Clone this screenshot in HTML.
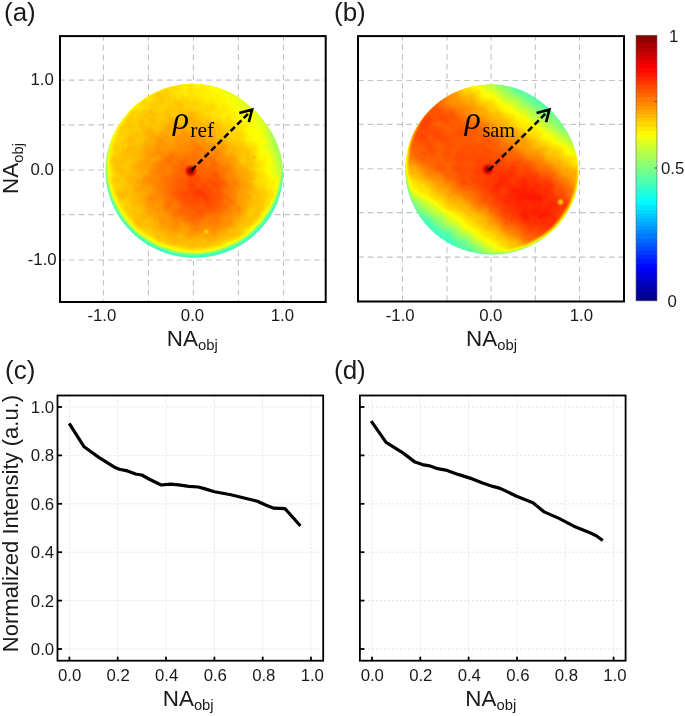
<!DOCTYPE html>
<html><head><meta charset="utf-8"><title>Figure</title>
<style>html,body{margin:0;padding:0;background:#fff;width:685px;height:716px;overflow:hidden}svg{display:block;will-change:transform}</style>
</head><body><svg width="685" height="716" viewBox="0 0 685 716"><defs><filter id="jetn" x="0" y="0" width="1" height="1" color-interpolation-filters="sRGB"><feTurbulence type="fractalNoise" baseFrequency="0.09" numOctaves="2" seed="7" result="nz"/><feColorMatrix in="nz" type="matrix" values="1 0 0 0 0  1 0 0 0 0  1 0 0 0 0  0 0 0 0 1" result="nzg"/><feComposite in="SourceGraphic" in2="nzg" operator="arithmetic" k1="0" k2="1" k3="0.045" k4="-0.0225" result="mix"/><feComposite in="mix" in2="SourceAlpha" operator="in" result="mixa"/><feComponentTransfer in="mixa"><feFuncR type="table" tableValues="0 0 0 0 0.5 1 1 1 0.5"/><feFuncG type="table" tableValues="0 0 0.5 1 1 1 0.5 0 0"/><feFuncB type="table" tableValues="0.5 1 1 1 0.5 0 0 0 0"/></feComponentTransfer></filter><filter id="jetf" x="0" y="0" width="1" height="1" color-interpolation-filters="sRGB"><feComponentTransfer><feFuncR type="table" tableValues="0 0 0 0 0.5 1 1 1 0.5"/><feFuncG type="table" tableValues="0 0 0.5 1 1 1 0.5 0 0"/><feFuncB type="table" tableValues="0.5 1 1 1 0.5 0 0 0 0"/></feComponentTransfer></filter><linearGradient id="cbar" x1="0" y1="0" x2="0" y2="1"><stop offset="0.0000" stop-color="#fdfdfd"/><stop offset="0.0156" stop-color="#fdfdfd"/><stop offset="0.0156" stop-color="#f9f9f9"/><stop offset="0.0312" stop-color="#f9f9f9"/><stop offset="0.0312" stop-color="#f5f5f5"/><stop offset="0.0469" stop-color="#f5f5f5"/><stop offset="0.0469" stop-color="#f1f1f1"/><stop offset="0.0625" stop-color="#f1f1f1"/><stop offset="0.0625" stop-color="#ededed"/><stop offset="0.0781" stop-color="#ededed"/><stop offset="0.0781" stop-color="#e9e9e9"/><stop offset="0.0938" stop-color="#e9e9e9"/><stop offset="0.0938" stop-color="#e5e5e5"/><stop offset="0.1094" stop-color="#e5e5e5"/><stop offset="0.1094" stop-color="#e1e1e1"/><stop offset="0.1250" stop-color="#e1e1e1"/><stop offset="0.1250" stop-color="#dddddd"/><stop offset="0.1406" stop-color="#dddddd"/><stop offset="0.1406" stop-color="#d9d9d9"/><stop offset="0.1562" stop-color="#d9d9d9"/><stop offset="0.1562" stop-color="#d5d5d5"/><stop offset="0.1719" stop-color="#d5d5d5"/><stop offset="0.1719" stop-color="#d1d1d1"/><stop offset="0.1875" stop-color="#d1d1d1"/><stop offset="0.1875" stop-color="#cdcdcd"/><stop offset="0.2031" stop-color="#cdcdcd"/><stop offset="0.2031" stop-color="#c9c9c9"/><stop offset="0.2188" stop-color="#c9c9c9"/><stop offset="0.2188" stop-color="#c5c5c5"/><stop offset="0.2344" stop-color="#c5c5c5"/><stop offset="0.2344" stop-color="#c1c1c1"/><stop offset="0.2500" stop-color="#c1c1c1"/><stop offset="0.2500" stop-color="#bdbdbd"/><stop offset="0.2656" stop-color="#bdbdbd"/><stop offset="0.2656" stop-color="#b9b9b9"/><stop offset="0.2812" stop-color="#b9b9b9"/><stop offset="0.2812" stop-color="#b5b5b5"/><stop offset="0.2969" stop-color="#b5b5b5"/><stop offset="0.2969" stop-color="#b1b1b1"/><stop offset="0.3125" stop-color="#b1b1b1"/><stop offset="0.3125" stop-color="#adadad"/><stop offset="0.3281" stop-color="#adadad"/><stop offset="0.3281" stop-color="#a9a9a9"/><stop offset="0.3438" stop-color="#a9a9a9"/><stop offset="0.3438" stop-color="#a5a5a5"/><stop offset="0.3594" stop-color="#a5a5a5"/><stop offset="0.3594" stop-color="#a1a1a1"/><stop offset="0.3750" stop-color="#a1a1a1"/><stop offset="0.3750" stop-color="#9d9d9d"/><stop offset="0.3906" stop-color="#9d9d9d"/><stop offset="0.3906" stop-color="#999999"/><stop offset="0.4062" stop-color="#999999"/><stop offset="0.4062" stop-color="#959595"/><stop offset="0.4219" stop-color="#959595"/><stop offset="0.4219" stop-color="#919191"/><stop offset="0.4375" stop-color="#919191"/><stop offset="0.4375" stop-color="#8d8d8d"/><stop offset="0.4531" stop-color="#8d8d8d"/><stop offset="0.4531" stop-color="#898989"/><stop offset="0.4688" stop-color="#898989"/><stop offset="0.4688" stop-color="#858585"/><stop offset="0.4844" stop-color="#858585"/><stop offset="0.4844" stop-color="#818181"/><stop offset="0.5000" stop-color="#818181"/><stop offset="0.5000" stop-color="#7e7e7e"/><stop offset="0.5156" stop-color="#7e7e7e"/><stop offset="0.5156" stop-color="#7a7a7a"/><stop offset="0.5312" stop-color="#7a7a7a"/><stop offset="0.5312" stop-color="#767676"/><stop offset="0.5469" stop-color="#767676"/><stop offset="0.5469" stop-color="#727272"/><stop offset="0.5625" stop-color="#727272"/><stop offset="0.5625" stop-color="#6e6e6e"/><stop offset="0.5781" stop-color="#6e6e6e"/><stop offset="0.5781" stop-color="#6a6a6a"/><stop offset="0.5938" stop-color="#6a6a6a"/><stop offset="0.5938" stop-color="#666666"/><stop offset="0.6094" stop-color="#666666"/><stop offset="0.6094" stop-color="#626262"/><stop offset="0.6250" stop-color="#626262"/><stop offset="0.6250" stop-color="#5e5e5e"/><stop offset="0.6406" stop-color="#5e5e5e"/><stop offset="0.6406" stop-color="#5a5a5a"/><stop offset="0.6562" stop-color="#5a5a5a"/><stop offset="0.6562" stop-color="#565656"/><stop offset="0.6719" stop-color="#565656"/><stop offset="0.6719" stop-color="#525252"/><stop offset="0.6875" stop-color="#525252"/><stop offset="0.6875" stop-color="#4e4e4e"/><stop offset="0.7031" stop-color="#4e4e4e"/><stop offset="0.7031" stop-color="#4a4a4a"/><stop offset="0.7188" stop-color="#4a4a4a"/><stop offset="0.7188" stop-color="#464646"/><stop offset="0.7344" stop-color="#464646"/><stop offset="0.7344" stop-color="#424242"/><stop offset="0.7500" stop-color="#424242"/><stop offset="0.7500" stop-color="#3e3e3e"/><stop offset="0.7656" stop-color="#3e3e3e"/><stop offset="0.7656" stop-color="#3a3a3a"/><stop offset="0.7812" stop-color="#3a3a3a"/><stop offset="0.7812" stop-color="#363636"/><stop offset="0.7969" stop-color="#363636"/><stop offset="0.7969" stop-color="#323232"/><stop offset="0.8125" stop-color="#323232"/><stop offset="0.8125" stop-color="#2e2e2e"/><stop offset="0.8281" stop-color="#2e2e2e"/><stop offset="0.8281" stop-color="#2a2a2a"/><stop offset="0.8438" stop-color="#2a2a2a"/><stop offset="0.8438" stop-color="#262626"/><stop offset="0.8594" stop-color="#262626"/><stop offset="0.8594" stop-color="#222222"/><stop offset="0.8750" stop-color="#222222"/><stop offset="0.8750" stop-color="#1e1e1e"/><stop offset="0.8906" stop-color="#1e1e1e"/><stop offset="0.8906" stop-color="#1a1a1a"/><stop offset="0.9062" stop-color="#1a1a1a"/><stop offset="0.9062" stop-color="#161616"/><stop offset="0.9219" stop-color="#161616"/><stop offset="0.9219" stop-color="#121212"/><stop offset="0.9375" stop-color="#121212"/><stop offset="0.9375" stop-color="#0e0e0e"/><stop offset="0.9531" stop-color="#0e0e0e"/><stop offset="0.9531" stop-color="#0a0a0a"/><stop offset="0.9688" stop-color="#0a0a0a"/><stop offset="0.9688" stop-color="#060606"/><stop offset="0.9844" stop-color="#060606"/><stop offset="0.9844" stop-color="#020202"/><stop offset="1.0000" stop-color="#020202"/></linearGradient><radialGradient id="ga" gradientUnits="userSpaceOnUse" cx="194.6" cy="170.5" r="90" fx="205" fy="195"><stop offset="0.0000" stop-color="#cfcfcf"/><stop offset="0.2000" stop-color="#cbcbcb"/><stop offset="0.3500" stop-color="#c4c4c4"/><stop offset="0.5000" stop-color="#bdbdbd"/><stop offset="0.6000" stop-color="#b8b8b8"/><stop offset="0.7000" stop-color="#b2b2b2"/><stop offset="0.8000" stop-color="#afafaf"/><stop offset="0.9000" stop-color="#acacac"/><stop offset="1.0000" stop-color="#aaaaaa"/></radialGradient><linearGradient id="ga2" gradientUnits="userSpaceOnUse" x1="266" y1="96" x2="186" y2="176"><stop offset="0.0000" stop-color="#8a8a8a"/><stop offset="0.1500" stop-color="#939393" stop-opacity="0.850"/><stop offset="0.3500" stop-color="#9c9c9c" stop-opacity="0.550"/><stop offset="0.6500" stop-color="#a6a6a6" stop-opacity="0.200"/><stop offset="1.0000" stop-color="#a8a8a8" stop-opacity="0.000"/></linearGradient><linearGradient id="ga3" gradientUnits="userSpaceOnUse" x1="286" y1="150" x2="226" y2="167"><stop offset="0.0000" stop-color="#757575"/><stop offset="0.1200" stop-color="#858585" stop-opacity="0.900"/><stop offset="0.3000" stop-color="#999999" stop-opacity="0.600"/><stop offset="0.6000" stop-color="#a6a6a6" stop-opacity="0.250"/><stop offset="1.0000" stop-color="#a8a8a8" stop-opacity="0.000"/></linearGradient><radialGradient id="rima" gradientUnits="userSpaceOnUse" cx="194.1" cy="166.0" r="90"><stop offset="0.8270" stop-color="#b2b2b2" stop-opacity="0.000"/><stop offset="0.8940" stop-color="#adadad" stop-opacity="0.600"/><stop offset="0.9500" stop-color="#9f9f9f" stop-opacity="0.900"/><stop offset="0.9720" stop-color="#8a8a8a"/><stop offset="0.9880" stop-color="#787878"/><stop offset="1.0050" stop-color="#6e6e6e"/></radialGradient><radialGradient id="rima2" gradientUnits="userSpaceOnUse" cx="150" cy="225" r="55"><stop offset="0.0000" stop-color="#737373" stop-opacity="0.500"/><stop offset="1.0000" stop-color="#737373" stop-opacity="0.000"/></radialGradient><linearGradient id="gb" gradientUnits="userSpaceOnUse" x1="431.64" y1="253.92" x2="546.36" y2="90.08"><stop offset="0.0000" stop-color="#616161"/><stop offset="0.0100" stop-color="#626262"/><stop offset="0.0200" stop-color="#636363"/><stop offset="0.0300" stop-color="#656565"/><stop offset="0.0400" stop-color="#666666"/><stop offset="0.0500" stop-color="#676767"/><stop offset="0.0600" stop-color="#696969"/><stop offset="0.0700" stop-color="#6a6a6a"/><stop offset="0.0800" stop-color="#6b6b6b"/><stop offset="0.0900" stop-color="#6e6e6e"/><stop offset="0.1000" stop-color="#707070"/><stop offset="0.1100" stop-color="#737373"/><stop offset="0.1200" stop-color="#757575"/><stop offset="0.1300" stop-color="#787878"/><stop offset="0.1400" stop-color="#7c7c7c"/><stop offset="0.1500" stop-color="#818181"/><stop offset="0.1600" stop-color="#858585"/><stop offset="0.1700" stop-color="#8a8a8a"/><stop offset="0.1800" stop-color="#8f8f8f"/><stop offset="0.1900" stop-color="#939393"/><stop offset="0.2000" stop-color="#989898"/><stop offset="0.2100" stop-color="#9d9d9d"/><stop offset="0.2200" stop-color="#a1a1a1"/><stop offset="0.2300" stop-color="#a4a4a4"/><stop offset="0.2400" stop-color="#a7a7a7"/><stop offset="0.2500" stop-color="#a9a9a9"/><stop offset="0.2600" stop-color="#acacac"/><stop offset="0.2700" stop-color="#afafaf"/><stop offset="0.2800" stop-color="#b1b1b1"/><stop offset="0.2900" stop-color="#b4b4b4"/><stop offset="0.3000" stop-color="#b6b6b6"/><stop offset="0.3100" stop-color="#b9b9b9"/><stop offset="0.3200" stop-color="#bbbbbb"/><stop offset="0.3300" stop-color="#bebebe"/><stop offset="0.3400" stop-color="#c0c0c0"/><stop offset="0.3500" stop-color="#c2c2c2"/><stop offset="0.3600" stop-color="#c5c5c5"/><stop offset="0.3700" stop-color="#c7c7c7"/><stop offset="0.3800" stop-color="#c9c9c9"/><stop offset="0.3900" stop-color="#cbcbcb"/><stop offset="0.4000" stop-color="#cccccc"/><stop offset="0.4100" stop-color="#cdcdcd"/><stop offset="0.4200" stop-color="#cfcfcf"/><stop offset="0.4300" stop-color="#d0d0d0"/><stop offset="0.4400" stop-color="#d1d1d1"/><stop offset="0.4500" stop-color="#d2d2d2"/><stop offset="0.4600" stop-color="#d2d2d2"/><stop offset="0.4700" stop-color="#d2d2d2"/><stop offset="0.4800" stop-color="#d3d3d3"/><stop offset="0.4900" stop-color="#d3d3d3"/><stop offset="0.5000" stop-color="#d4d4d4"/><stop offset="0.5100" stop-color="#d3d3d3"/><stop offset="0.5200" stop-color="#d2d2d2"/><stop offset="0.5300" stop-color="#d1d1d1"/><stop offset="0.5400" stop-color="#d1d1d1"/><stop offset="0.5500" stop-color="#d0d0d0"/><stop offset="0.5600" stop-color="#cfcfcf"/><stop offset="0.5700" stop-color="#cecece"/><stop offset="0.5800" stop-color="#cecece"/><stop offset="0.5900" stop-color="#cdcdcd"/><stop offset="0.6000" stop-color="#cccccc"/><stop offset="0.6100" stop-color="#cacaca"/><stop offset="0.6200" stop-color="#c9c9c9"/><stop offset="0.6300" stop-color="#c7c7c7"/><stop offset="0.6400" stop-color="#c5c5c5"/><stop offset="0.6500" stop-color="#c4c4c4"/><stop offset="0.6600" stop-color="#c2c2c2"/><stop offset="0.6700" stop-color="#c0c0c0"/><stop offset="0.6800" stop-color="#bebebe"/><stop offset="0.6900" stop-color="#bcbcbc"/><stop offset="0.7000" stop-color="#bababa"/><stop offset="0.7100" stop-color="#b8b8b8"/><stop offset="0.7200" stop-color="#b6b6b6"/><stop offset="0.7300" stop-color="#b4b4b4"/><stop offset="0.7400" stop-color="#b2b2b2"/><stop offset="0.7500" stop-color="#b0b0b0"/><stop offset="0.7600" stop-color="#adadad"/><stop offset="0.7700" stop-color="#ababab"/><stop offset="0.7800" stop-color="#a8a8a8"/><stop offset="0.7900" stop-color="#a6a6a6"/><stop offset="0.8000" stop-color="#a3a3a3"/><stop offset="0.8100" stop-color="#a1a1a1"/><stop offset="0.8200" stop-color="#9e9e9e"/><stop offset="0.8300" stop-color="#9a9a9a"/><stop offset="0.8400" stop-color="#969696"/><stop offset="0.8500" stop-color="#929292"/><stop offset="0.8600" stop-color="#8f8f8f"/><stop offset="0.8700" stop-color="#8b8b8b"/><stop offset="0.8800" stop-color="#878787"/><stop offset="0.8900" stop-color="#838383"/><stop offset="0.9000" stop-color="#808080"/><stop offset="0.9100" stop-color="#7c7c7c"/><stop offset="0.9200" stop-color="#797979"/><stop offset="0.9300" stop-color="#767676"/><stop offset="0.9400" stop-color="#737373"/><stop offset="0.9500" stop-color="#707070"/><stop offset="0.9600" stop-color="#6f6f6f"/><stop offset="0.9700" stop-color="#6d6d6d"/><stop offset="0.9800" stop-color="#6c6c6c"/><stop offset="0.9900" stop-color="#6a6a6a"/><stop offset="1.0000" stop-color="#696969"/></linearGradient><radialGradient id="gb2" gradientUnits="userSpaceOnUse" cx="530" cy="200" r="45"><stop offset="0.0000" stop-color="#dbdbdb" stop-opacity="0.700"/><stop offset="1.0000" stop-color="#dbdbdb" stop-opacity="0.000"/></radialGradient><radialGradient id="gb3" gradientUnits="userSpaceOnUse" cx="448" cy="148" r="58"><stop offset="0.0000" stop-color="#c6c6c6" stop-opacity="0.800"/><stop offset="0.5000" stop-color="#c6c6c6" stop-opacity="0.500"/><stop offset="1.0000" stop-color="#c6c6c6" stop-opacity="0.000"/></radialGradient><radialGradient id="rimb" gradientUnits="userSpaceOnUse" cx="493.0" cy="166.0" r="89.5"><stop offset="0.9300" stop-color="#9e9e9e" stop-opacity="0.000"/><stop offset="0.9600" stop-color="#949494" stop-opacity="0.500"/><stop offset="0.9850" stop-color="#7a7a7a" stop-opacity="0.900"/><stop offset="1.0000" stop-color="#6e6e6e"/></radialGradient><radialGradient id="sp66"><stop offset="0.0000" stop-color="#a7a7a7" stop-opacity="0.950"/><stop offset="0.5000" stop-color="#a7a7a7" stop-opacity="0.570"/><stop offset="1.0000" stop-color="#a7a7a7" stop-opacity="0.000"/></radialGradient><radialGradient id="sp70"><stop offset="0.0000" stop-color="#b0b0b0" stop-opacity="0.900"/><stop offset="0.5000" stop-color="#b0b0b0" stop-opacity="0.540"/><stop offset="1.0000" stop-color="#b0b0b0" stop-opacity="0.000"/></radialGradient><radialGradient id="dot"><stop offset="0" stop-color="#500000"/><stop offset="0.25" stop-color="#a00000"/><stop offset="0.55" stop-color="#e00000" stop-opacity="0.85"/><stop offset="1" stop-color="#ff2000" stop-opacity="0"/></radialGradient></defs><g stroke="#c4c4c4" stroke-width="1.1" stroke-dasharray="5.8 4" stroke-dashoffset="0.0" fill="none"><line x1="59.0" y1="80.1" x2="326.7" y2="80.1"/><line x1="59.0" y1="124.9" x2="326.7" y2="124.9"/><line x1="59.0" y1="170.0" x2="326.7" y2="170.0"/><line x1="59.0" y1="214.6" x2="326.7" y2="214.6"/><line x1="59.0" y1="260.0" x2="326.7" y2="260.0"/></g><g stroke="#c4c4c4" stroke-width="1.1" stroke-dasharray="5.8 4" stroke-dashoffset="0.0" fill="none"><line x1="103.4" y1="35.0" x2="103.4" y2="303.0"/><line x1="148.4" y1="35.0" x2="148.4" y2="303.0"/><line x1="193.4" y1="35.0" x2="193.4" y2="303.0"/><line x1="238.4" y1="35.0" x2="238.4" y2="303.0"/><line x1="283.5" y1="35.0" x2="283.5" y2="303.0"/></g><g filter="url(#jetn)"><path d="M105.50 170.50 L105.53 168.17 L105.63 165.84 L105.79 163.51 L106.01 161.19 L106.29 158.87 L106.64 156.57 L107.05 154.27 L107.53 151.99 L108.06 149.72 L108.66 147.47 L109.31 145.24 L110.03 143.02 L110.80 140.83 L111.64 138.65 L112.53 136.51 L113.48 134.38 L114.49 132.29 L115.55 130.22 L116.67 128.19 L117.84 126.18 L119.06 124.21 L120.33 122.27 L121.66 120.37 L123.03 118.50 L124.45 116.67 L125.92 114.89 L127.44 113.14 L129.00 111.43 L130.60 109.77 L132.24 108.14 L133.93 106.57 L135.66 105.04 L137.42 103.55 L139.22 102.12 L141.06 100.73 L142.93 99.39 L144.84 98.10 L146.78 96.86 L148.74 95.67 L150.74 94.53 L152.76 93.45 L154.81 92.42 L156.89 91.44 L158.99 90.52 L161.11 89.65 L163.25 88.84 L165.42 88.09 L167.60 87.39 L169.79 86.75 L172.00 86.17 L174.23 85.64 L176.46 85.18 L178.71 84.77 L180.97 84.43 L183.23 84.14 L185.50 83.92 L187.77 83.76 L190.05 83.66 L192.32 83.62 L194.60 83.64 L196.87 83.73 L199.14 83.87 L201.40 84.08 L203.65 84.36 L205.90 84.69 L208.13 85.08 L210.35 85.54 L212.55 86.06 L214.73 86.63 L216.90 87.27 L219.05 87.96 L221.17 88.72 L223.28 89.52 L225.35 90.39 L227.40 91.30 L229.43 92.27 L231.43 93.29 L233.40 94.36 L235.33 95.48 L237.24 96.64 L239.12 97.85 L240.97 99.10 L242.78 100.39 L244.57 101.72 L246.32 103.10 L248.04 104.51 L249.73 105.95 L251.39 107.43 L253.01 108.95 L254.60 110.50 L256.16 112.08 L257.69 113.70 L259.18 115.34 L260.64 117.02 L262.06 118.73 L263.46 120.47 L264.81 122.25 L266.13 124.05 L267.41 125.88 L268.65 127.75 L269.85 129.64 L271.01 131.57 L272.13 133.52 L273.20 135.51 L274.22 137.52 L275.20 139.56 L276.12 141.63 L276.99 143.73 L277.81 145.85 L278.57 148.00 L279.28 150.17 L279.92 152.36 L280.50 154.58 L281.03 156.81 L281.48 159.06 L281.88 161.33 L282.20 163.61 L282.46 165.90 L282.65 168.19 L282.78 170.50 L282.83 172.81 L282.82 175.12 L282.74 177.44 L282.59 179.75 L282.37 182.06 L282.09 184.36 L281.73 186.65 L281.31 188.93 L280.82 191.20 L280.27 193.45 L279.65 195.69 L278.96 197.91 L278.22 200.11 L277.41 202.29 L276.54 204.44 L275.61 206.57 L274.62 208.67 L273.57 210.74 L272.47 212.78 L271.31 214.79 L270.10 216.76 L268.83 218.71 L267.51 220.61 L266.15 222.48 L264.73 224.31 L263.26 226.10 L261.75 227.85 L260.19 229.56 L258.59 231.23 L256.95 232.85 L255.27 234.43 L253.54 235.96 L251.78 237.45 L249.98 238.89 L248.14 240.28 L246.27 241.62 L244.37 242.91 L242.43 244.15 L240.46 245.34 L238.47 246.48 L236.45 247.57 L234.40 248.61 L232.32 249.59 L230.23 250.52 L228.11 251.39 L225.97 252.21 L223.81 252.98 L221.63 253.69 L219.43 254.34 L217.23 254.94 L215.00 255.48 L212.77 255.97 L210.52 256.40 L208.26 256.77 L206.00 257.08 L203.73 257.34 L201.45 257.54 L199.17 257.69 L196.89 257.77 L194.60 257.80 L192.31 257.77 L190.03 257.69 L187.75 257.54 L185.47 257.34 L183.20 257.08 L180.94 256.77 L178.68 256.40 L176.43 255.97 L174.20 255.48 L171.97 254.94 L169.77 254.34 L167.57 253.69 L165.39 252.98 L163.23 252.21 L161.09 251.39 L158.97 250.52 L156.88 249.59 L154.80 248.61 L152.75 247.57 L150.73 246.48 L148.73 245.35 L146.77 244.15 L144.83 242.91 L142.93 241.62 L141.06 240.28 L139.22 238.89 L137.42 237.45 L135.65 235.97 L133.93 234.43 L132.24 232.86 L130.60 231.24 L128.99 229.57 L127.44 227.86 L125.92 226.12 L124.45 224.33 L123.03 222.50 L121.66 220.63 L120.33 218.73 L119.06 216.79 L117.84 214.82 L116.67 212.81 L115.55 210.78 L114.49 208.71 L113.48 206.62 L112.53 204.49 L111.64 202.35 L110.80 200.17 L110.03 197.98 L109.31 195.76 L108.66 193.53 L108.06 191.28 L107.53 189.01 L107.05 186.73 L106.64 184.43 L106.29 182.13 L106.01 179.81 L105.79 177.49 L105.63 175.16 L105.53 172.83 Z" fill="url(#ga)"/><path d="M105.50 170.50 L105.53 168.17 L105.63 165.84 L105.79 163.51 L106.01 161.19 L106.29 158.87 L106.64 156.57 L107.05 154.27 L107.53 151.99 L108.06 149.72 L108.66 147.47 L109.31 145.24 L110.03 143.02 L110.80 140.83 L111.64 138.65 L112.53 136.51 L113.48 134.38 L114.49 132.29 L115.55 130.22 L116.67 128.19 L117.84 126.18 L119.06 124.21 L120.33 122.27 L121.66 120.37 L123.03 118.50 L124.45 116.67 L125.92 114.89 L127.44 113.14 L129.00 111.43 L130.60 109.77 L132.24 108.14 L133.93 106.57 L135.66 105.04 L137.42 103.55 L139.22 102.12 L141.06 100.73 L142.93 99.39 L144.84 98.10 L146.78 96.86 L148.74 95.67 L150.74 94.53 L152.76 93.45 L154.81 92.42 L156.89 91.44 L158.99 90.52 L161.11 89.65 L163.25 88.84 L165.42 88.09 L167.60 87.39 L169.79 86.75 L172.00 86.17 L174.23 85.64 L176.46 85.18 L178.71 84.77 L180.97 84.43 L183.23 84.14 L185.50 83.92 L187.77 83.76 L190.05 83.66 L192.32 83.62 L194.60 83.64 L196.87 83.73 L199.14 83.87 L201.40 84.08 L203.65 84.36 L205.90 84.69 L208.13 85.08 L210.35 85.54 L212.55 86.06 L214.73 86.63 L216.90 87.27 L219.05 87.96 L221.17 88.72 L223.28 89.52 L225.35 90.39 L227.40 91.30 L229.43 92.27 L231.43 93.29 L233.40 94.36 L235.33 95.48 L237.24 96.64 L239.12 97.85 L240.97 99.10 L242.78 100.39 L244.57 101.72 L246.32 103.10 L248.04 104.51 L249.73 105.95 L251.39 107.43 L253.01 108.95 L254.60 110.50 L256.16 112.08 L257.69 113.70 L259.18 115.34 L260.64 117.02 L262.06 118.73 L263.46 120.47 L264.81 122.25 L266.13 124.05 L267.41 125.88 L268.65 127.75 L269.85 129.64 L271.01 131.57 L272.13 133.52 L273.20 135.51 L274.22 137.52 L275.20 139.56 L276.12 141.63 L276.99 143.73 L277.81 145.85 L278.57 148.00 L279.28 150.17 L279.92 152.36 L280.50 154.58 L281.03 156.81 L281.48 159.06 L281.88 161.33 L282.20 163.61 L282.46 165.90 L282.65 168.19 L282.78 170.50 L282.83 172.81 L282.82 175.12 L282.74 177.44 L282.59 179.75 L282.37 182.06 L282.09 184.36 L281.73 186.65 L281.31 188.93 L280.82 191.20 L280.27 193.45 L279.65 195.69 L278.96 197.91 L278.22 200.11 L277.41 202.29 L276.54 204.44 L275.61 206.57 L274.62 208.67 L273.57 210.74 L272.47 212.78 L271.31 214.79 L270.10 216.76 L268.83 218.71 L267.51 220.61 L266.15 222.48 L264.73 224.31 L263.26 226.10 L261.75 227.85 L260.19 229.56 L258.59 231.23 L256.95 232.85 L255.27 234.43 L253.54 235.96 L251.78 237.45 L249.98 238.89 L248.14 240.28 L246.27 241.62 L244.37 242.91 L242.43 244.15 L240.46 245.34 L238.47 246.48 L236.45 247.57 L234.40 248.61 L232.32 249.59 L230.23 250.52 L228.11 251.39 L225.97 252.21 L223.81 252.98 L221.63 253.69 L219.43 254.34 L217.23 254.94 L215.00 255.48 L212.77 255.97 L210.52 256.40 L208.26 256.77 L206.00 257.08 L203.73 257.34 L201.45 257.54 L199.17 257.69 L196.89 257.77 L194.60 257.80 L192.31 257.77 L190.03 257.69 L187.75 257.54 L185.47 257.34 L183.20 257.08 L180.94 256.77 L178.68 256.40 L176.43 255.97 L174.20 255.48 L171.97 254.94 L169.77 254.34 L167.57 253.69 L165.39 252.98 L163.23 252.21 L161.09 251.39 L158.97 250.52 L156.88 249.59 L154.80 248.61 L152.75 247.57 L150.73 246.48 L148.73 245.35 L146.77 244.15 L144.83 242.91 L142.93 241.62 L141.06 240.28 L139.22 238.89 L137.42 237.45 L135.65 235.97 L133.93 234.43 L132.24 232.86 L130.60 231.24 L128.99 229.57 L127.44 227.86 L125.92 226.12 L124.45 224.33 L123.03 222.50 L121.66 220.63 L120.33 218.73 L119.06 216.79 L117.84 214.82 L116.67 212.81 L115.55 210.78 L114.49 208.71 L113.48 206.62 L112.53 204.49 L111.64 202.35 L110.80 200.17 L110.03 197.98 L109.31 195.76 L108.66 193.53 L108.06 191.28 L107.53 189.01 L107.05 186.73 L106.64 184.43 L106.29 182.13 L106.01 179.81 L105.79 177.49 L105.63 175.16 L105.53 172.83 Z" fill="url(#ga2)" style="mix-blend-mode:darken"/><path d="M105.50 170.50 L105.53 168.17 L105.63 165.84 L105.79 163.51 L106.01 161.19 L106.29 158.87 L106.64 156.57 L107.05 154.27 L107.53 151.99 L108.06 149.72 L108.66 147.47 L109.31 145.24 L110.03 143.02 L110.80 140.83 L111.64 138.65 L112.53 136.51 L113.48 134.38 L114.49 132.29 L115.55 130.22 L116.67 128.19 L117.84 126.18 L119.06 124.21 L120.33 122.27 L121.66 120.37 L123.03 118.50 L124.45 116.67 L125.92 114.89 L127.44 113.14 L129.00 111.43 L130.60 109.77 L132.24 108.14 L133.93 106.57 L135.66 105.04 L137.42 103.55 L139.22 102.12 L141.06 100.73 L142.93 99.39 L144.84 98.10 L146.78 96.86 L148.74 95.67 L150.74 94.53 L152.76 93.45 L154.81 92.42 L156.89 91.44 L158.99 90.52 L161.11 89.65 L163.25 88.84 L165.42 88.09 L167.60 87.39 L169.79 86.75 L172.00 86.17 L174.23 85.64 L176.46 85.18 L178.71 84.77 L180.97 84.43 L183.23 84.14 L185.50 83.92 L187.77 83.76 L190.05 83.66 L192.32 83.62 L194.60 83.64 L196.87 83.73 L199.14 83.87 L201.40 84.08 L203.65 84.36 L205.90 84.69 L208.13 85.08 L210.35 85.54 L212.55 86.06 L214.73 86.63 L216.90 87.27 L219.05 87.96 L221.17 88.72 L223.28 89.52 L225.35 90.39 L227.40 91.30 L229.43 92.27 L231.43 93.29 L233.40 94.36 L235.33 95.48 L237.24 96.64 L239.12 97.85 L240.97 99.10 L242.78 100.39 L244.57 101.72 L246.32 103.10 L248.04 104.51 L249.73 105.95 L251.39 107.43 L253.01 108.95 L254.60 110.50 L256.16 112.08 L257.69 113.70 L259.18 115.34 L260.64 117.02 L262.06 118.73 L263.46 120.47 L264.81 122.25 L266.13 124.05 L267.41 125.88 L268.65 127.75 L269.85 129.64 L271.01 131.57 L272.13 133.52 L273.20 135.51 L274.22 137.52 L275.20 139.56 L276.12 141.63 L276.99 143.73 L277.81 145.85 L278.57 148.00 L279.28 150.17 L279.92 152.36 L280.50 154.58 L281.03 156.81 L281.48 159.06 L281.88 161.33 L282.20 163.61 L282.46 165.90 L282.65 168.19 L282.78 170.50 L282.83 172.81 L282.82 175.12 L282.74 177.44 L282.59 179.75 L282.37 182.06 L282.09 184.36 L281.73 186.65 L281.31 188.93 L280.82 191.20 L280.27 193.45 L279.65 195.69 L278.96 197.91 L278.22 200.11 L277.41 202.29 L276.54 204.44 L275.61 206.57 L274.62 208.67 L273.57 210.74 L272.47 212.78 L271.31 214.79 L270.10 216.76 L268.83 218.71 L267.51 220.61 L266.15 222.48 L264.73 224.31 L263.26 226.10 L261.75 227.85 L260.19 229.56 L258.59 231.23 L256.95 232.85 L255.27 234.43 L253.54 235.96 L251.78 237.45 L249.98 238.89 L248.14 240.28 L246.27 241.62 L244.37 242.91 L242.43 244.15 L240.46 245.34 L238.47 246.48 L236.45 247.57 L234.40 248.61 L232.32 249.59 L230.23 250.52 L228.11 251.39 L225.97 252.21 L223.81 252.98 L221.63 253.69 L219.43 254.34 L217.23 254.94 L215.00 255.48 L212.77 255.97 L210.52 256.40 L208.26 256.77 L206.00 257.08 L203.73 257.34 L201.45 257.54 L199.17 257.69 L196.89 257.77 L194.60 257.80 L192.31 257.77 L190.03 257.69 L187.75 257.54 L185.47 257.34 L183.20 257.08 L180.94 256.77 L178.68 256.40 L176.43 255.97 L174.20 255.48 L171.97 254.94 L169.77 254.34 L167.57 253.69 L165.39 252.98 L163.23 252.21 L161.09 251.39 L158.97 250.52 L156.88 249.59 L154.80 248.61 L152.75 247.57 L150.73 246.48 L148.73 245.35 L146.77 244.15 L144.83 242.91 L142.93 241.62 L141.06 240.28 L139.22 238.89 L137.42 237.45 L135.65 235.97 L133.93 234.43 L132.24 232.86 L130.60 231.24 L128.99 229.57 L127.44 227.86 L125.92 226.12 L124.45 224.33 L123.03 222.50 L121.66 220.63 L120.33 218.73 L119.06 216.79 L117.84 214.82 L116.67 212.81 L115.55 210.78 L114.49 208.71 L113.48 206.62 L112.53 204.49 L111.64 202.35 L110.80 200.17 L110.03 197.98 L109.31 195.76 L108.66 193.53 L108.06 191.28 L107.53 189.01 L107.05 186.73 L106.64 184.43 L106.29 182.13 L106.01 179.81 L105.79 177.49 L105.63 175.16 L105.53 172.83 Z" fill="url(#ga3)" style="mix-blend-mode:darken"/><path d="M105.50 170.50 L105.53 168.17 L105.63 165.84 L105.79 163.51 L106.01 161.19 L106.29 158.87 L106.64 156.57 L107.05 154.27 L107.53 151.99 L108.06 149.72 L108.66 147.47 L109.31 145.24 L110.03 143.02 L110.80 140.83 L111.64 138.65 L112.53 136.51 L113.48 134.38 L114.49 132.29 L115.55 130.22 L116.67 128.19 L117.84 126.18 L119.06 124.21 L120.33 122.27 L121.66 120.37 L123.03 118.50 L124.45 116.67 L125.92 114.89 L127.44 113.14 L129.00 111.43 L130.60 109.77 L132.24 108.14 L133.93 106.57 L135.66 105.04 L137.42 103.55 L139.22 102.12 L141.06 100.73 L142.93 99.39 L144.84 98.10 L146.78 96.86 L148.74 95.67 L150.74 94.53 L152.76 93.45 L154.81 92.42 L156.89 91.44 L158.99 90.52 L161.11 89.65 L163.25 88.84 L165.42 88.09 L167.60 87.39 L169.79 86.75 L172.00 86.17 L174.23 85.64 L176.46 85.18 L178.71 84.77 L180.97 84.43 L183.23 84.14 L185.50 83.92 L187.77 83.76 L190.05 83.66 L192.32 83.62 L194.60 83.64 L196.87 83.73 L199.14 83.87 L201.40 84.08 L203.65 84.36 L205.90 84.69 L208.13 85.08 L210.35 85.54 L212.55 86.06 L214.73 86.63 L216.90 87.27 L219.05 87.96 L221.17 88.72 L223.28 89.52 L225.35 90.39 L227.40 91.30 L229.43 92.27 L231.43 93.29 L233.40 94.36 L235.33 95.48 L237.24 96.64 L239.12 97.85 L240.97 99.10 L242.78 100.39 L244.57 101.72 L246.32 103.10 L248.04 104.51 L249.73 105.95 L251.39 107.43 L253.01 108.95 L254.60 110.50 L256.16 112.08 L257.69 113.70 L259.18 115.34 L260.64 117.02 L262.06 118.73 L263.46 120.47 L264.81 122.25 L266.13 124.05 L267.41 125.88 L268.65 127.75 L269.85 129.64 L271.01 131.57 L272.13 133.52 L273.20 135.51 L274.22 137.52 L275.20 139.56 L276.12 141.63 L276.99 143.73 L277.81 145.85 L278.57 148.00 L279.28 150.17 L279.92 152.36 L280.50 154.58 L281.03 156.81 L281.48 159.06 L281.88 161.33 L282.20 163.61 L282.46 165.90 L282.65 168.19 L282.78 170.50 L282.83 172.81 L282.82 175.12 L282.74 177.44 L282.59 179.75 L282.37 182.06 L282.09 184.36 L281.73 186.65 L281.31 188.93 L280.82 191.20 L280.27 193.45 L279.65 195.69 L278.96 197.91 L278.22 200.11 L277.41 202.29 L276.54 204.44 L275.61 206.57 L274.62 208.67 L273.57 210.74 L272.47 212.78 L271.31 214.79 L270.10 216.76 L268.83 218.71 L267.51 220.61 L266.15 222.48 L264.73 224.31 L263.26 226.10 L261.75 227.85 L260.19 229.56 L258.59 231.23 L256.95 232.85 L255.27 234.43 L253.54 235.96 L251.78 237.45 L249.98 238.89 L248.14 240.28 L246.27 241.62 L244.37 242.91 L242.43 244.15 L240.46 245.34 L238.47 246.48 L236.45 247.57 L234.40 248.61 L232.32 249.59 L230.23 250.52 L228.11 251.39 L225.97 252.21 L223.81 252.98 L221.63 253.69 L219.43 254.34 L217.23 254.94 L215.00 255.48 L212.77 255.97 L210.52 256.40 L208.26 256.77 L206.00 257.08 L203.73 257.34 L201.45 257.54 L199.17 257.69 L196.89 257.77 L194.60 257.80 L192.31 257.77 L190.03 257.69 L187.75 257.54 L185.47 257.34 L183.20 257.08 L180.94 256.77 L178.68 256.40 L176.43 255.97 L174.20 255.48 L171.97 254.94 L169.77 254.34 L167.57 253.69 L165.39 252.98 L163.23 252.21 L161.09 251.39 L158.97 250.52 L156.88 249.59 L154.80 248.61 L152.75 247.57 L150.73 246.48 L148.73 245.35 L146.77 244.15 L144.83 242.91 L142.93 241.62 L141.06 240.28 L139.22 238.89 L137.42 237.45 L135.65 235.97 L133.93 234.43 L132.24 232.86 L130.60 231.24 L128.99 229.57 L127.44 227.86 L125.92 226.12 L124.45 224.33 L123.03 222.50 L121.66 220.63 L120.33 218.73 L119.06 216.79 L117.84 214.82 L116.67 212.81 L115.55 210.78 L114.49 208.71 L113.48 206.62 L112.53 204.49 L111.64 202.35 L110.80 200.17 L110.03 197.98 L109.31 195.76 L108.66 193.53 L108.06 191.28 L107.53 189.01 L107.05 186.73 L106.64 184.43 L106.29 182.13 L106.01 179.81 L105.79 177.49 L105.63 175.16 L105.53 172.83 Z" fill="url(#rima)" style="mix-blend-mode:darken"/><circle cx="125.7" cy="145.5" r="3.6" fill="url(#sp66)"/><circle cx="206.3" cy="231.5" r="3.4" fill="url(#sp66)"/><circle cx="221.5" cy="236" r="3.2" fill="url(#sp70)"/><circle cx="121" cy="171" r="3" fill="url(#sp70)"/><circle cx="254" cy="157" r="3" fill="url(#sp70)"/></g><circle cx="190.8" cy="171" r="7" fill="url(#dot)"/><rect x="60.0" y="36.1" width="265.7" height="265.9" fill="none" stroke="#000" stroke-width="2"/><g stroke="#c4c4c4" stroke-width="1.1" stroke-dasharray="5.7 3.95" stroke-dashoffset="-1.0" fill="none"><line x1="357.0" y1="80.5" x2="625.0" y2="80.5"/><line x1="357.0" y1="124.4" x2="625.0" y2="124.4"/><line x1="357.0" y1="168.8" x2="625.0" y2="168.8"/><line x1="357.0" y1="212.6" x2="625.0" y2="212.6"/><line x1="357.0" y1="257.1" x2="625.0" y2="257.1"/></g><g stroke="#c4c4c4" stroke-width="1.1" stroke-dasharray="5.7 3.95" stroke-dashoffset="0.2" fill="none"><line x1="402.4" y1="35.0" x2="402.4" y2="302.5"/><line x1="447.0" y1="35.0" x2="447.0" y2="302.5"/><line x1="491.1" y1="35.0" x2="491.1" y2="302.5"/><line x1="535.3" y1="35.0" x2="535.3" y2="302.5"/><line x1="579.5" y1="35.0" x2="579.5" y2="302.5"/></g><g filter="url(#jetn)"><path d="M405.20 169.20 L405.23 166.92 L405.32 164.64 L405.48 162.36 L405.70 160.09 L405.98 157.82 L406.32 155.57 L406.72 153.32 L407.18 151.09 L407.71 148.87 L408.29 146.66 L408.93 144.48 L409.64 142.31 L410.40 140.16 L411.21 138.04 L412.09 135.93 L413.02 133.86 L414.00 131.81 L415.04 129.78 L416.14 127.79 L417.28 125.83 L418.48 123.90 L419.73 122.00 L421.02 120.14 L422.37 118.32 L423.76 116.53 L425.20 114.78 L426.68 113.07 L428.21 111.40 L429.78 109.77 L431.39 108.19 L433.04 106.65 L434.73 105.15 L436.45 103.70 L438.22 102.29 L440.02 100.93 L441.85 99.62 L443.71 98.36 L445.61 97.14 L447.53 95.98 L449.48 94.87 L451.46 93.81 L453.47 92.80 L455.50 91.84 L457.55 90.93 L459.63 90.08 L461.72 89.29 L463.84 88.54 L465.97 87.86 L468.12 87.23 L470.28 86.65 L472.46 86.13 L474.65 85.67 L476.84 85.27 L479.05 84.92 L481.27 84.64 L483.49 84.41 L485.71 84.24 L487.94 84.13 L490.17 84.08 L492.40 84.09 L494.63 84.16 L496.85 84.30 L499.07 84.49 L501.28 84.75 L503.48 85.06 L505.67 85.44 L507.84 85.88 L510.00 86.38 L512.15 86.94 L514.28 87.56 L516.38 88.24 L518.47 88.97 L520.53 89.77 L522.57 90.61 L524.58 91.52 L526.56 92.47 L528.51 93.48 L530.44 94.54 L532.33 95.65 L534.20 96.80 L536.03 98.00 L537.83 99.25 L539.59 100.53 L541.33 101.86 L543.03 103.22 L544.70 104.62 L546.33 106.05 L547.94 107.52 L549.51 109.02 L551.05 110.55 L552.55 112.12 L554.03 113.71 L555.47 115.33 L556.89 116.98 L558.26 118.66 L559.61 120.37 L560.93 122.10 L562.21 123.87 L563.45 125.66 L564.66 127.48 L565.83 129.33 L566.97 131.21 L568.06 133.11 L569.11 135.05 L570.12 137.01 L571.08 139.00 L571.99 141.01 L572.86 143.06 L573.67 145.13 L574.43 147.22 L575.13 149.34 L575.78 151.48 L576.36 153.64 L576.88 155.82 L577.35 158.02 L577.74 160.23 L578.07 162.46 L578.34 164.70 L578.54 166.94 L578.67 169.20 L578.73 171.46 L578.73 173.72 L578.66 175.99 L578.51 178.25 L578.30 180.51 L578.03 182.76 L577.68 185.01 L577.27 187.24 L576.79 189.46 L576.25 191.67 L575.65 193.86 L574.98 196.03 L574.25 198.18 L573.45 200.31 L572.60 202.42 L571.69 204.50 L570.72 206.56 L569.69 208.58 L568.61 210.58 L567.48 212.54 L566.29 214.48 L565.05 216.38 L563.75 218.24 L562.41 220.07 L561.03 221.86 L559.59 223.61 L558.11 225.32 L556.59 226.99 L555.02 228.62 L553.41 230.21 L551.76 231.75 L550.07 233.25 L548.35 234.70 L546.58 236.11 L544.79 237.47 L542.95 238.78 L541.09 240.05 L539.20 241.26 L537.27 242.42 L535.32 243.54 L533.34 244.60 L531.33 245.61 L529.31 246.57 L527.25 247.48 L525.18 248.34 L523.09 249.14 L520.97 249.89 L518.84 250.58 L516.69 251.22 L514.53 251.80 L512.36 252.33 L510.17 252.81 L507.97 253.23 L505.77 253.59 L503.55 253.90 L501.33 254.15 L499.10 254.35 L496.87 254.49 L494.64 254.57 L492.40 254.60 L490.16 254.57 L487.93 254.49 L485.70 254.35 L483.47 254.15 L481.25 253.90 L479.03 253.59 L476.83 253.23 L474.63 252.81 L472.44 252.33 L470.27 251.80 L468.11 251.22 L465.96 250.58 L463.83 249.89 L461.71 249.14 L459.62 248.34 L457.55 247.48 L455.49 246.57 L453.46 245.61 L451.46 244.60 L449.48 243.54 L447.53 242.43 L445.60 241.26 L443.71 240.05 L441.85 238.78 L440.01 237.47 L438.22 236.11 L436.45 234.71 L434.73 233.25 L433.04 231.76 L431.39 230.21 L429.78 228.63 L428.21 227.00 L426.68 225.33 L425.20 223.62 L423.76 221.87 L422.37 220.08 L421.02 218.26 L419.73 216.40 L418.48 214.50 L417.28 212.57 L416.14 210.61 L415.04 208.62 L414.00 206.59 L413.02 204.54 L412.09 202.47 L411.21 200.36 L410.40 198.24 L409.64 196.09 L408.93 193.92 L408.29 191.74 L407.71 189.53 L407.18 187.31 L406.72 185.08 L406.32 182.83 L405.98 180.58 L405.70 178.31 L405.48 176.04 L405.32 173.76 L405.23 171.48 Z" fill="url(#gb)"/><path d="M405.20 169.20 L405.23 166.92 L405.32 164.64 L405.48 162.36 L405.70 160.09 L405.98 157.82 L406.32 155.57 L406.72 153.32 L407.18 151.09 L407.71 148.87 L408.29 146.66 L408.93 144.48 L409.64 142.31 L410.40 140.16 L411.21 138.04 L412.09 135.93 L413.02 133.86 L414.00 131.81 L415.04 129.78 L416.14 127.79 L417.28 125.83 L418.48 123.90 L419.73 122.00 L421.02 120.14 L422.37 118.32 L423.76 116.53 L425.20 114.78 L426.68 113.07 L428.21 111.40 L429.78 109.77 L431.39 108.19 L433.04 106.65 L434.73 105.15 L436.45 103.70 L438.22 102.29 L440.02 100.93 L441.85 99.62 L443.71 98.36 L445.61 97.14 L447.53 95.98 L449.48 94.87 L451.46 93.81 L453.47 92.80 L455.50 91.84 L457.55 90.93 L459.63 90.08 L461.72 89.29 L463.84 88.54 L465.97 87.86 L468.12 87.23 L470.28 86.65 L472.46 86.13 L474.65 85.67 L476.84 85.27 L479.05 84.92 L481.27 84.64 L483.49 84.41 L485.71 84.24 L487.94 84.13 L490.17 84.08 L492.40 84.09 L494.63 84.16 L496.85 84.30 L499.07 84.49 L501.28 84.75 L503.48 85.06 L505.67 85.44 L507.84 85.88 L510.00 86.38 L512.15 86.94 L514.28 87.56 L516.38 88.24 L518.47 88.97 L520.53 89.77 L522.57 90.61 L524.58 91.52 L526.56 92.47 L528.51 93.48 L530.44 94.54 L532.33 95.65 L534.20 96.80 L536.03 98.00 L537.83 99.25 L539.59 100.53 L541.33 101.86 L543.03 103.22 L544.70 104.62 L546.33 106.05 L547.94 107.52 L549.51 109.02 L551.05 110.55 L552.55 112.12 L554.03 113.71 L555.47 115.33 L556.89 116.98 L558.26 118.66 L559.61 120.37 L560.93 122.10 L562.21 123.87 L563.45 125.66 L564.66 127.48 L565.83 129.33 L566.97 131.21 L568.06 133.11 L569.11 135.05 L570.12 137.01 L571.08 139.00 L571.99 141.01 L572.86 143.06 L573.67 145.13 L574.43 147.22 L575.13 149.34 L575.78 151.48 L576.36 153.64 L576.88 155.82 L577.35 158.02 L577.74 160.23 L578.07 162.46 L578.34 164.70 L578.54 166.94 L578.67 169.20 L578.73 171.46 L578.73 173.72 L578.66 175.99 L578.51 178.25 L578.30 180.51 L578.03 182.76 L577.68 185.01 L577.27 187.24 L576.79 189.46 L576.25 191.67 L575.65 193.86 L574.98 196.03 L574.25 198.18 L573.45 200.31 L572.60 202.42 L571.69 204.50 L570.72 206.56 L569.69 208.58 L568.61 210.58 L567.48 212.54 L566.29 214.48 L565.05 216.38 L563.75 218.24 L562.41 220.07 L561.03 221.86 L559.59 223.61 L558.11 225.32 L556.59 226.99 L555.02 228.62 L553.41 230.21 L551.76 231.75 L550.07 233.25 L548.35 234.70 L546.58 236.11 L544.79 237.47 L542.95 238.78 L541.09 240.05 L539.20 241.26 L537.27 242.42 L535.32 243.54 L533.34 244.60 L531.33 245.61 L529.31 246.57 L527.25 247.48 L525.18 248.34 L523.09 249.14 L520.97 249.89 L518.84 250.58 L516.69 251.22 L514.53 251.80 L512.36 252.33 L510.17 252.81 L507.97 253.23 L505.77 253.59 L503.55 253.90 L501.33 254.15 L499.10 254.35 L496.87 254.49 L494.64 254.57 L492.40 254.60 L490.16 254.57 L487.93 254.49 L485.70 254.35 L483.47 254.15 L481.25 253.90 L479.03 253.59 L476.83 253.23 L474.63 252.81 L472.44 252.33 L470.27 251.80 L468.11 251.22 L465.96 250.58 L463.83 249.89 L461.71 249.14 L459.62 248.34 L457.55 247.48 L455.49 246.57 L453.46 245.61 L451.46 244.60 L449.48 243.54 L447.53 242.43 L445.60 241.26 L443.71 240.05 L441.85 238.78 L440.01 237.47 L438.22 236.11 L436.45 234.71 L434.73 233.25 L433.04 231.76 L431.39 230.21 L429.78 228.63 L428.21 227.00 L426.68 225.33 L425.20 223.62 L423.76 221.87 L422.37 220.08 L421.02 218.26 L419.73 216.40 L418.48 214.50 L417.28 212.57 L416.14 210.61 L415.04 208.62 L414.00 206.59 L413.02 204.54 L412.09 202.47 L411.21 200.36 L410.40 198.24 L409.64 196.09 L408.93 193.92 L408.29 191.74 L407.71 189.53 L407.18 187.31 L406.72 185.08 L406.32 182.83 L405.98 180.58 L405.70 178.31 L405.48 176.04 L405.32 173.76 L405.23 171.48 Z" fill="url(#gb2)" style="mix-blend-mode:lighten"/><path d="M405.20 169.20 L405.23 166.92 L405.32 164.64 L405.48 162.36 L405.70 160.09 L405.98 157.82 L406.32 155.57 L406.72 153.32 L407.18 151.09 L407.71 148.87 L408.29 146.66 L408.93 144.48 L409.64 142.31 L410.40 140.16 L411.21 138.04 L412.09 135.93 L413.02 133.86 L414.00 131.81 L415.04 129.78 L416.14 127.79 L417.28 125.83 L418.48 123.90 L419.73 122.00 L421.02 120.14 L422.37 118.32 L423.76 116.53 L425.20 114.78 L426.68 113.07 L428.21 111.40 L429.78 109.77 L431.39 108.19 L433.04 106.65 L434.73 105.15 L436.45 103.70 L438.22 102.29 L440.02 100.93 L441.85 99.62 L443.71 98.36 L445.61 97.14 L447.53 95.98 L449.48 94.87 L451.46 93.81 L453.47 92.80 L455.50 91.84 L457.55 90.93 L459.63 90.08 L461.72 89.29 L463.84 88.54 L465.97 87.86 L468.12 87.23 L470.28 86.65 L472.46 86.13 L474.65 85.67 L476.84 85.27 L479.05 84.92 L481.27 84.64 L483.49 84.41 L485.71 84.24 L487.94 84.13 L490.17 84.08 L492.40 84.09 L494.63 84.16 L496.85 84.30 L499.07 84.49 L501.28 84.75 L503.48 85.06 L505.67 85.44 L507.84 85.88 L510.00 86.38 L512.15 86.94 L514.28 87.56 L516.38 88.24 L518.47 88.97 L520.53 89.77 L522.57 90.61 L524.58 91.52 L526.56 92.47 L528.51 93.48 L530.44 94.54 L532.33 95.65 L534.20 96.80 L536.03 98.00 L537.83 99.25 L539.59 100.53 L541.33 101.86 L543.03 103.22 L544.70 104.62 L546.33 106.05 L547.94 107.52 L549.51 109.02 L551.05 110.55 L552.55 112.12 L554.03 113.71 L555.47 115.33 L556.89 116.98 L558.26 118.66 L559.61 120.37 L560.93 122.10 L562.21 123.87 L563.45 125.66 L564.66 127.48 L565.83 129.33 L566.97 131.21 L568.06 133.11 L569.11 135.05 L570.12 137.01 L571.08 139.00 L571.99 141.01 L572.86 143.06 L573.67 145.13 L574.43 147.22 L575.13 149.34 L575.78 151.48 L576.36 153.64 L576.88 155.82 L577.35 158.02 L577.74 160.23 L578.07 162.46 L578.34 164.70 L578.54 166.94 L578.67 169.20 L578.73 171.46 L578.73 173.72 L578.66 175.99 L578.51 178.25 L578.30 180.51 L578.03 182.76 L577.68 185.01 L577.27 187.24 L576.79 189.46 L576.25 191.67 L575.65 193.86 L574.98 196.03 L574.25 198.18 L573.45 200.31 L572.60 202.42 L571.69 204.50 L570.72 206.56 L569.69 208.58 L568.61 210.58 L567.48 212.54 L566.29 214.48 L565.05 216.38 L563.75 218.24 L562.41 220.07 L561.03 221.86 L559.59 223.61 L558.11 225.32 L556.59 226.99 L555.02 228.62 L553.41 230.21 L551.76 231.75 L550.07 233.25 L548.35 234.70 L546.58 236.11 L544.79 237.47 L542.95 238.78 L541.09 240.05 L539.20 241.26 L537.27 242.42 L535.32 243.54 L533.34 244.60 L531.33 245.61 L529.31 246.57 L527.25 247.48 L525.18 248.34 L523.09 249.14 L520.97 249.89 L518.84 250.58 L516.69 251.22 L514.53 251.80 L512.36 252.33 L510.17 252.81 L507.97 253.23 L505.77 253.59 L503.55 253.90 L501.33 254.15 L499.10 254.35 L496.87 254.49 L494.64 254.57 L492.40 254.60 L490.16 254.57 L487.93 254.49 L485.70 254.35 L483.47 254.15 L481.25 253.90 L479.03 253.59 L476.83 253.23 L474.63 252.81 L472.44 252.33 L470.27 251.80 L468.11 251.22 L465.96 250.58 L463.83 249.89 L461.71 249.14 L459.62 248.34 L457.55 247.48 L455.49 246.57 L453.46 245.61 L451.46 244.60 L449.48 243.54 L447.53 242.43 L445.60 241.26 L443.71 240.05 L441.85 238.78 L440.01 237.47 L438.22 236.11 L436.45 234.71 L434.73 233.25 L433.04 231.76 L431.39 230.21 L429.78 228.63 L428.21 227.00 L426.68 225.33 L425.20 223.62 L423.76 221.87 L422.37 220.08 L421.02 218.26 L419.73 216.40 L418.48 214.50 L417.28 212.57 L416.14 210.61 L415.04 208.62 L414.00 206.59 L413.02 204.54 L412.09 202.47 L411.21 200.36 L410.40 198.24 L409.64 196.09 L408.93 193.92 L408.29 191.74 L407.71 189.53 L407.18 187.31 L406.72 185.08 L406.32 182.83 L405.98 180.58 L405.70 178.31 L405.48 176.04 L405.32 173.76 L405.23 171.48 Z" fill="url(#gb3)" style="mix-blend-mode:darken"/><path d="M405.20 169.20 L405.23 166.92 L405.32 164.64 L405.48 162.36 L405.70 160.09 L405.98 157.82 L406.32 155.57 L406.72 153.32 L407.18 151.09 L407.71 148.87 L408.29 146.66 L408.93 144.48 L409.64 142.31 L410.40 140.16 L411.21 138.04 L412.09 135.93 L413.02 133.86 L414.00 131.81 L415.04 129.78 L416.14 127.79 L417.28 125.83 L418.48 123.90 L419.73 122.00 L421.02 120.14 L422.37 118.32 L423.76 116.53 L425.20 114.78 L426.68 113.07 L428.21 111.40 L429.78 109.77 L431.39 108.19 L433.04 106.65 L434.73 105.15 L436.45 103.70 L438.22 102.29 L440.02 100.93 L441.85 99.62 L443.71 98.36 L445.61 97.14 L447.53 95.98 L449.48 94.87 L451.46 93.81 L453.47 92.80 L455.50 91.84 L457.55 90.93 L459.63 90.08 L461.72 89.29 L463.84 88.54 L465.97 87.86 L468.12 87.23 L470.28 86.65 L472.46 86.13 L474.65 85.67 L476.84 85.27 L479.05 84.92 L481.27 84.64 L483.49 84.41 L485.71 84.24 L487.94 84.13 L490.17 84.08 L492.40 84.09 L494.63 84.16 L496.85 84.30 L499.07 84.49 L501.28 84.75 L503.48 85.06 L505.67 85.44 L507.84 85.88 L510.00 86.38 L512.15 86.94 L514.28 87.56 L516.38 88.24 L518.47 88.97 L520.53 89.77 L522.57 90.61 L524.58 91.52 L526.56 92.47 L528.51 93.48 L530.44 94.54 L532.33 95.65 L534.20 96.80 L536.03 98.00 L537.83 99.25 L539.59 100.53 L541.33 101.86 L543.03 103.22 L544.70 104.62 L546.33 106.05 L547.94 107.52 L549.51 109.02 L551.05 110.55 L552.55 112.12 L554.03 113.71 L555.47 115.33 L556.89 116.98 L558.26 118.66 L559.61 120.37 L560.93 122.10 L562.21 123.87 L563.45 125.66 L564.66 127.48 L565.83 129.33 L566.97 131.21 L568.06 133.11 L569.11 135.05 L570.12 137.01 L571.08 139.00 L571.99 141.01 L572.86 143.06 L573.67 145.13 L574.43 147.22 L575.13 149.34 L575.78 151.48 L576.36 153.64 L576.88 155.82 L577.35 158.02 L577.74 160.23 L578.07 162.46 L578.34 164.70 L578.54 166.94 L578.67 169.20 L578.73 171.46 L578.73 173.72 L578.66 175.99 L578.51 178.25 L578.30 180.51 L578.03 182.76 L577.68 185.01 L577.27 187.24 L576.79 189.46 L576.25 191.67 L575.65 193.86 L574.98 196.03 L574.25 198.18 L573.45 200.31 L572.60 202.42 L571.69 204.50 L570.72 206.56 L569.69 208.58 L568.61 210.58 L567.48 212.54 L566.29 214.48 L565.05 216.38 L563.75 218.24 L562.41 220.07 L561.03 221.86 L559.59 223.61 L558.11 225.32 L556.59 226.99 L555.02 228.62 L553.41 230.21 L551.76 231.75 L550.07 233.25 L548.35 234.70 L546.58 236.11 L544.79 237.47 L542.95 238.78 L541.09 240.05 L539.20 241.26 L537.27 242.42 L535.32 243.54 L533.34 244.60 L531.33 245.61 L529.31 246.57 L527.25 247.48 L525.18 248.34 L523.09 249.14 L520.97 249.89 L518.84 250.58 L516.69 251.22 L514.53 251.80 L512.36 252.33 L510.17 252.81 L507.97 253.23 L505.77 253.59 L503.55 253.90 L501.33 254.15 L499.10 254.35 L496.87 254.49 L494.64 254.57 L492.40 254.60 L490.16 254.57 L487.93 254.49 L485.70 254.35 L483.47 254.15 L481.25 253.90 L479.03 253.59 L476.83 253.23 L474.63 252.81 L472.44 252.33 L470.27 251.80 L468.11 251.22 L465.96 250.58 L463.83 249.89 L461.71 249.14 L459.62 248.34 L457.55 247.48 L455.49 246.57 L453.46 245.61 L451.46 244.60 L449.48 243.54 L447.53 242.43 L445.60 241.26 L443.71 240.05 L441.85 238.78 L440.01 237.47 L438.22 236.11 L436.45 234.71 L434.73 233.25 L433.04 231.76 L431.39 230.21 L429.78 228.63 L428.21 227.00 L426.68 225.33 L425.20 223.62 L423.76 221.87 L422.37 220.08 L421.02 218.26 L419.73 216.40 L418.48 214.50 L417.28 212.57 L416.14 210.61 L415.04 208.62 L414.00 206.59 L413.02 204.54 L412.09 202.47 L411.21 200.36 L410.40 198.24 L409.64 196.09 L408.93 193.92 L408.29 191.74 L407.71 189.53 L407.18 187.31 L406.72 185.08 L406.32 182.83 L405.98 180.58 L405.70 178.31 L405.48 176.04 L405.32 173.76 L405.23 171.48 Z" fill="url(#rimb)" style="mix-blend-mode:darken"/><circle cx="560.5" cy="202" r="4" fill="url(#sp66)"/></g><circle cx="487.8" cy="169.5" r="7" fill="url(#dot)"/><rect x="358.0" y="36.1" width="266.0" height="265.4" fill="none" stroke="#000" stroke-width="2"/><line x1="191.6" y1="170.1" x2="251.8" y2="110.0" stroke="#000" stroke-width="2.6" stroke-dasharray="6 3.2"/><polyline points="239.3,113.1 252.1,109.7 248.8,122.2" fill="none" stroke="#000" stroke-width="2.6" stroke-linecap="butt" stroke-linejoin="miter"/><line x1="489.0" y1="170.1" x2="549.1" y2="110.0" stroke="#000" stroke-width="2.6" stroke-dasharray="6 3.2"/><polyline points="536.6,113.1 549.4,109.7 546.1,122.2" fill="none" stroke="#000" stroke-width="2.6" stroke-linecap="butt" stroke-linejoin="miter"/><text transform="translate(173 129.2) scale(1.08 1)" font-family='"Liberation Serif", serif' font-style="italic" font-size="31" fill="#000">&#961;</text><text x="190.3" y="137.2" font-family='"Liberation Serif", serif' font-size="21.5" fill="#000">ref</text><text transform="translate(464.8 129.2) scale(1.08 1)" font-family='"Liberation Serif", serif' font-style="italic" font-size="31" fill="#000">&#961;</text><text transform="translate(482.4 137.2) scale(0.945 1)" font-family='"Liberation Serif", serif' font-size="21.5" fill="#000">sam</text><rect x="636" y="35.2" width="21" height="265.7" fill="url(#cbar)" filter="url(#jetf)"/><rect x="636" y="35.2" width="21" height="265.7" fill="none" stroke="#666" stroke-width="0.6"/><line x1="654.5" y1="101.6" x2="657" y2="101.6" stroke="#555" stroke-width="1"/><line x1="654.5" y1="168.0" x2="657" y2="168.0" stroke="#555" stroke-width="1"/><line x1="654.5" y1="234.4" x2="657" y2="234.4" stroke="#555" stroke-width="1"/><g font-family='"Liberation Sans", sans-serif' fill="#1a1a1a"><text x="4.0" y="20.8" font-size="26.00" text-anchor="start" >(a)</text><text x="334.0" y="20.5" font-size="26.00" text-anchor="start" >(b)</text><text x="5.0" y="378.6" font-size="26.00" text-anchor="start" >(c)</text><text x="334.0" y="378.6" font-size="26.00" text-anchor="start" >(d)</text><text x="101.9" y="321.2" font-size="16.80" text-anchor="middle" >-1.0</text><text x="192.5" y="321.2" font-size="16.80" text-anchor="middle" >0.0</text><text x="282.4" y="321.2" font-size="16.80" text-anchor="middle" >1.0</text><text x="400.2" y="321.2" font-size="16.80" text-anchor="middle" >-1.0</text><text x="490.8" y="321.2" font-size="16.80" text-anchor="middle" >0.0</text><text x="581.4" y="321.2" font-size="16.80" text-anchor="middle" >1.0</text><text x="42.2" y="85.4" font-size="16.80" text-anchor="middle" >1.0</text><text x="42.2" y="174.9" font-size="16.80" text-anchor="middle" >0.0</text><text x="42.2" y="264.8" font-size="16.80" text-anchor="middle" >-1.0</text><text x="669.0" y="41.6" font-size="16.80" text-anchor="start" >1</text><text x="661.0" y="173.8" font-size="16.80" text-anchor="start" >0.5</text><text x="667.5" y="306.8" font-size="16.80" text-anchor="start" >0</text><text x="192.3" y="345.6" font-size="22.40" text-anchor="middle" ><tspan>NA</tspan><tspan font-size="14.8" dy="4.4">obj</tspan></text><text x="491.5" y="345.6" font-size="22.40" text-anchor="middle" ><tspan>NA</tspan><tspan font-size="14.8" dy="4.4">obj</tspan></text><text x="17.9" y="168.5" font-size="22.40" text-anchor="middle" transform="rotate(-90 17.9 168.5)"><tspan>NA</tspan><tspan font-size="14.8" dy="5.6">obj</tspan></text><text x="69.7" y="681.4" font-size="16.80" text-anchor="middle" >0.0</text><text x="118.2" y="681.4" font-size="16.80" text-anchor="middle" >0.2</text><text x="166.7" y="681.4" font-size="16.80" text-anchor="middle" >0.4</text><text x="215.3" y="681.4" font-size="16.80" text-anchor="middle" >0.6</text><text x="263.8" y="681.4" font-size="16.80" text-anchor="middle" >0.8</text><text x="312.3" y="681.4" font-size="16.80" text-anchor="middle" >1.0</text><text x="188.2" y="706.0" font-size="22.40" text-anchor="middle" ><tspan>NA</tspan><tspan font-size="14.8" dy="4.4">obj</tspan></text><text x="372.3" y="681.4" font-size="16.80" text-anchor="middle" >0.0</text><text x="420.8" y="681.4" font-size="16.80" text-anchor="middle" >0.2</text><text x="469.3" y="681.4" font-size="16.80" text-anchor="middle" >0.4</text><text x="517.9" y="681.4" font-size="16.80" text-anchor="middle" >0.6</text><text x="566.4" y="681.4" font-size="16.80" text-anchor="middle" >0.8</text><text x="614.9" y="681.4" font-size="16.80" text-anchor="middle" >1.0</text><text x="490.8" y="706.0" font-size="22.40" text-anchor="middle" ><tspan>NA</tspan><tspan font-size="14.8" dy="4.4">obj</tspan></text><text x="42.5" y="655.0" font-size="16.80" text-anchor="middle" >0.0</text><text x="42.5" y="606.6" font-size="16.80" text-anchor="middle" >0.2</text><text x="42.5" y="558.2" font-size="16.80" text-anchor="middle" >0.4</text><text x="42.5" y="509.8" font-size="16.80" text-anchor="middle" >0.6</text><text x="42.5" y="461.4" font-size="16.80" text-anchor="middle" >0.8</text><text x="42.5" y="413.0" font-size="16.80" text-anchor="middle" >1.0</text><text x="18.0" y="523.6" font-size="22.05" text-anchor="middle" transform="rotate(-90 18.0 523.5)">Normalized Intensity (a.u.)</text></g><g stroke="#e2e2e2" stroke-width="1" stroke-dasharray="2 2" fill="none"><line x1="57.5" y1="649.0" x2="323.2" y2="649.0"/><line x1="69.4" y1="395.5" x2="69.4" y2="660.7"/><line x1="57.5" y1="600.6" x2="323.2" y2="600.6"/><line x1="117.7" y1="395.5" x2="117.7" y2="660.7"/><line x1="57.5" y1="552.2" x2="323.2" y2="552.2"/><line x1="166.0" y1="395.5" x2="166.0" y2="660.7"/><line x1="57.5" y1="503.8" x2="323.2" y2="503.8"/><line x1="214.4" y1="395.5" x2="214.4" y2="660.7"/><line x1="57.5" y1="455.4" x2="323.2" y2="455.4"/><line x1="262.7" y1="395.5" x2="262.7" y2="660.7"/><line x1="57.5" y1="407.0" x2="323.2" y2="407.0"/><line x1="311.0" y1="395.5" x2="311.0" y2="660.7"/></g><g stroke="#000" stroke-width="1.8"><line x1="57.5" y1="649.0" x2="62.0" y2="649.0"/><line x1="69.4" y1="660.7" x2="69.4" y2="656.7"/><line x1="57.5" y1="600.6" x2="62.0" y2="600.6"/><line x1="117.7" y1="660.7" x2="117.7" y2="656.7"/><line x1="57.5" y1="552.2" x2="62.0" y2="552.2"/><line x1="166.0" y1="660.7" x2="166.0" y2="656.7"/><line x1="57.5" y1="503.8" x2="62.0" y2="503.8"/><line x1="214.4" y1="660.7" x2="214.4" y2="656.7"/><line x1="57.5" y1="455.4" x2="62.0" y2="455.4"/><line x1="262.7" y1="660.7" x2="262.7" y2="656.7"/><line x1="57.5" y1="407.0" x2="62.0" y2="407.0"/><line x1="311.0" y1="660.7" x2="311.0" y2="656.7"/></g><polyline points="69.2,423.3 84.1,446.8 98.8,457.4 115.2,467.6 119.3,469.3 127.4,470.9 135.6,474.0 141.7,475.0 149.9,479.5 161.2,485.0 170.4,484.2 178.5,484.8 188.8,486.4 198.2,487.0 204.3,488.6 214.5,491.7 230.9,494.7 243.1,497.8 257.4,501.3 265.6,505.0 273.8,508.2 285.0,508.6 293.2,517.8 300.4,526.0" fill="none" stroke="#000" stroke-width="3.2" stroke-linejoin="round" stroke-linecap="butt"/><rect x="57.5" y="395.5" width="265.7" height="265.2" fill="none" stroke="#000" stroke-width="1.8"/><g stroke="#e2e2e2" stroke-width="1" stroke-dasharray="2 2" fill="none"><line x1="359.9" y1="649.0" x2="625.6" y2="649.0"/><line x1="372.0" y1="395.5" x2="372.0" y2="660.7"/><line x1="359.9" y1="600.6" x2="625.6" y2="600.6"/><line x1="420.3" y1="395.5" x2="420.3" y2="660.7"/><line x1="359.9" y1="552.2" x2="625.6" y2="552.2"/><line x1="468.6" y1="395.5" x2="468.6" y2="660.7"/><line x1="359.9" y1="503.8" x2="625.6" y2="503.8"/><line x1="517.0" y1="395.5" x2="517.0" y2="660.7"/><line x1="359.9" y1="455.4" x2="625.6" y2="455.4"/><line x1="565.3" y1="395.5" x2="565.3" y2="660.7"/><line x1="359.9" y1="407.0" x2="625.6" y2="407.0"/><line x1="613.6" y1="395.5" x2="613.6" y2="660.7"/></g><g stroke="#000" stroke-width="1.8"><line x1="359.9" y1="649.0" x2="364.4" y2="649.0"/><line x1="372.0" y1="660.7" x2="372.0" y2="656.7"/><line x1="359.9" y1="600.6" x2="364.4" y2="600.6"/><line x1="420.3" y1="660.7" x2="420.3" y2="656.7"/><line x1="359.9" y1="552.2" x2="364.4" y2="552.2"/><line x1="468.6" y1="660.7" x2="468.6" y2="656.7"/><line x1="359.9" y1="503.8" x2="364.4" y2="503.8"/><line x1="517.0" y1="660.7" x2="517.0" y2="656.7"/><line x1="359.9" y1="455.4" x2="364.4" y2="455.4"/><line x1="565.3" y1="660.7" x2="565.3" y2="656.7"/><line x1="359.9" y1="407.0" x2="364.4" y2="407.0"/><line x1="613.6" y1="660.7" x2="613.6" y2="656.7"/></g><polyline points="371.2,421.2 386.1,442.3 402.9,452.9 415.1,462.1 422.3,464.6 429.4,465.8 437.6,468.7 445.8,470.1 458.1,474.4 472.4,478.9 482.6,483.0 492.8,486.4 500.2,488.4 516.6,496.2 532.9,502.7 544.2,511.9 559.5,518.6 573.8,526.2 588.1,531.9 596.3,535.8 602.8,540.5" fill="none" stroke="#000" stroke-width="3.2" stroke-linejoin="round" stroke-linecap="butt"/><rect x="359.9" y="395.5" width="265.7" height="265.2" fill="none" stroke="#000" stroke-width="1.8"/></svg></body></html>
